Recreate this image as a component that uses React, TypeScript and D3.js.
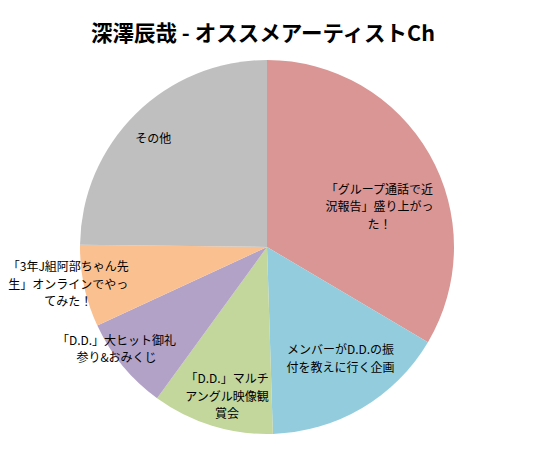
import { useEffect, useRef } from 'react';
import * as d3 from 'd3';

const chartTitle = '深澤辰哉 - オススメアーティストCh';

const categoryLines = [
  ['「グループ通話で近', '況報告」盛り上がっ', 'た！'],
  ['メンバーがD.D.の振', '付を教えに行く企画'],
  ['「D.D.」マルチ', 'アングル映像観', '賞会'],
  ['「D.D.」大ヒット御礼', '参り&おみくじ'],
  ['「3年J組阿部ちゃん先', '生」オンラインでやっ', 'てみた！'],
  ['その他']
];

const shareValues = [33.5, 16.0, 10.5, 8.1, 7.1, 24.8];

const sliceColors = ['#D99694', '#93CDDD', '#C3D69B', '#B3A2C7', '#FAC090', '#BFBFBF'];

// label placement: angle nudge (degrees) and distance as part of radius
const labelLayout = [
  { turn: 9.6, dist: 0.64 },
  { turn: -3, dist: 0.71 },
  { turn: -2, dist: 0.82 },
  { turn: 5.5, dist: 0.97 },
  { turn: 1.7, dist: 1.08 },
  { turn: -1.4, dist: 0.845 }
];

const WIDTH = 533;
const HEIGHT = 452;
const CX = 267;
const CY = 247;
const RADIUS = 187;

export default function App() {
  const svgRef = useRef<SVGSVGElement>(null);

  useEffect(() => {
    const svgEl = d3.select(svgRef.current);
    svgEl.selectAll('*').remove();

    const data = shareValues.map((value, index) => ({
      value,
      lines: categoryLines[index],
      color: sliceColors[index],
      layout: labelLayout[index]
    }));

    const pie = d3
      .pie<{ value: number }>()
      .sort(null)
      .value((d) => d.value);
    const arcs = pie(data);

    const arcGenerator = d3.arc<d3.PieArcDatum<any>>().innerRadius(0).outerRadius(RADIUS);

    const chartG = svgEl.append('g').attr('transform', `translate(${CX},${CY})`);

    chartG
      .selectAll('path')
      .data(arcs)
      .enter()
      .append('path')
      .attr('d', arcGenerator)
      .attr('fill', (d: any) => d.data.color);

    const labelG = chartG
      .selectAll('g.label')
      .data(arcs)
      .enter()
      .append('g')
      .attr('class', 'label')
      .attr('transform', (d: any) => {
        const mid = (d.startAngle + d.endAngle) / 2 + (d.data.layout.turn * Math.PI) / 180;
        const dist = RADIUS * d.data.layout.dist;
        return `translate(${dist * Math.sin(mid)},${-dist * Math.cos(mid)})`;
      });

    labelG.each(function (d: any) {
      const lines: string[] = d.data.lines;
      const text = d3
        .select(this)
        .append('text')
        .attr('text-anchor', 'middle')
        .attr('font-family', '"Noto Sans CJK JP", sans-serif')
        .attr('font-size', '12px')
        .attr('fill', '#000');
      lines.forEach((line, i) => {
        text
          .append('tspan')
          .attr('x', 0)
          .attr('y', (i - (lines.length - 1) / 2) * 17.5)
          .attr('dominant-baseline', 'central')
          .text(line);
      });
    });

    svgEl
      .append('text')
      .attr('x', 263)
      .attr('y', 31)
      .attr('text-anchor', 'middle')
      .attr('dominant-baseline', 'central')
      .attr('font-family', '"Noto Sans CJK JP", sans-serif')
      .attr('font-weight', 'bold')
      .attr('font-size', '21.5px')
      .attr('fill', '#000')
      .text(chartTitle);
  }, []);

  return (
    <svg
      ref={svgRef}
      width={WIDTH}
      height={HEIGHT}
      style={{ position: 'absolute', left: 0, top: 0, background: '#fff' }}
    />
  );
}
